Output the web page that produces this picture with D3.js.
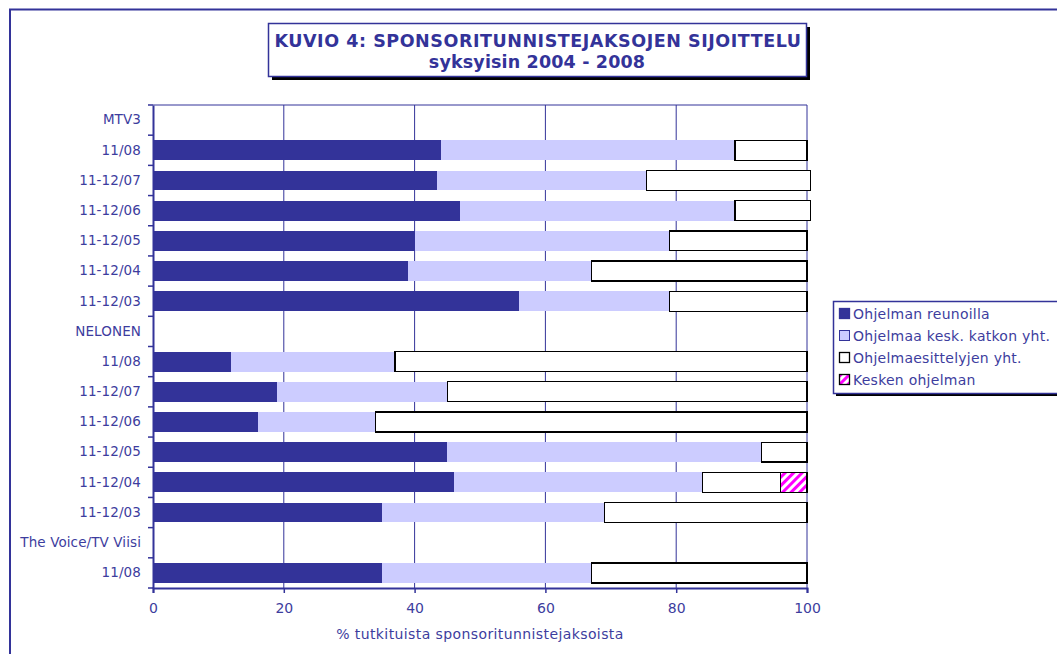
<!DOCTYPE html>
<html><head><meta charset="utf-8">
<script src="https://cdn.jsdelivr.net/npm/d3@7"></script>
<style>body{margin:0;background:#fff}svg{display:block;font-family:"DejaVu Sans",Verdana,sans-serif}</style>
</head><body><svg id="c" width="1057" height="654"></svg>
<script>
const categories = ["MTV3","11/08","11-12/07","11-12/06","11-12/05","11-12/04","11-12/03",
  "NELONEN","11/08","11-12/07","11-12/06","11-12/05","11-12/04","11-12/03",
  "The Voice/TV Viisi","11/08"];
const reunoilla   = [null,44,43.5,47,40,39,56, null,12,19,16,45,46,35, null,35];
const keskKatkon  = [null,45,32,42,39,28,23, null,25,26,18,48,38,34, null,32];
const esittelyjen = [null,11,25,11.5,21,33,21, null,63,55,66,7,12,31, null,33];
const keskenOhj   = [null,0,0,0,0,0,0, null,0,0,0,0,4,0, null,0];
const seriesNames = ["Ohjelman reunoilla","Ohjelmaa kesk. katkon yht.","Ohjelmaesittelyjen yht.","Kesken ohjelman"];
const xTicks = [0,20,40,60,80,100];
const titleLines = ["KUVIO 4: SPONSORITUNNISTEJAKSOJEN SIJOITTELU","syksyisin 2004 - 2008"];
const xTitle = "% tutkituista sponsoritunnistejaksoista";

const blue = "#333399", txt = "#3d3d9e";
const svg = d3.select("#c");
const defs = svg.append("defs");
const pat = defs.append("pattern").attr("id","hatch").attr("patternUnits","userSpaceOnUse")
  .attr("width",6).attr("height",6).attr("patternTransform","rotate(45)");
pat.append("rect").attr("width",6).attr("height",6).attr("fill","#fff");
pat.append("rect").attr("width",3).attr("height",6).attr("fill","#ff00ff");

// outer border
svg.append("path").attr("d","M10,654 V9.5 H1057").attr("fill","none").attr("stroke",blue).attr("stroke-width",2);

const L=153, R=807, T=105, B=588;
const x = d3.scaleLinear().domain([0,100]).range([L,R]);
const y = d3.scaleBand().domain(d3.range(categories.length)).range([T,B]).paddingInner(0.34).paddingOuter(0.17);

// gridlines
const g = svg.append("g");
g.selectAll("line.grid").data(xTicks.slice(1)).join("line")
  .attr("x1",d=>x(d)).attr("x2",d=>x(d)).attr("y1",T).attr("y2",B)
  .attr("stroke",blue).attr("stroke-width",1);
g.append("line").attr("x1",L).attr("x2",R).attr("y1",T).attr("y2",T).attr("stroke",blue);

// bars
const series = [reunoilla,keskKatkon,esittelyjen,keskenOhj];
const fills = [blue,"#ccccff","#ffffff","url(#hatch)"];
const strokes = ["none","none","#000","#000"];
categories.forEach((c,i)=>{
  let acc=0;
  series.forEach((s,k)=>{
    const v=s[i]; if(v==null||v===0){return;}
    svg.append("rect").attr("x",x(acc)).attr("y",y(i)).attr("width",x(acc+v)-x(acc)).attr("height",y.bandwidth())
      .attr("fill",fills[k]).attr("stroke",strokes[k]).attr("stroke-width",k>=2?1.3:0)
      .attr("shape-rendering","crispEdges");
    acc+=v;
  });
});

// y axis
const yAxis = d3.axisLeft(d3.scaleBand().domain(d3.range(categories.length)).range([T,B]))
  .tickSize(0).tickPadding(12).tickFormat(i=>categories[i]);
const ya = svg.append("g").attr("transform",`translate(${L},0)`).call(yAxis);
ya.select(".domain").attr("stroke",blue).attr("stroke-width",2);
ya.selectAll("text").attr("fill",txt).attr("font-size",13.5).attr("letter-spacing",0.1).attr("font-family","DejaVu Sans");
const bounds = d3.range(categories.length+1).map(i=>T+i*(B-T)/categories.length);
svg.append("g").selectAll("line").data(bounds).join("line")
  .attr("x1",L-5).attr("x2",L).attr("y1",d=>d).attr("y2",d=>d).attr("stroke",blue).attr("stroke-width",1.5);

// x axis
const xa = svg.append("g").attr("transform",`translate(0,${B})`)
  .call(d3.axisBottom(x).tickValues(xTicks).tickSize(5).tickPadding(10));
xa.select(".domain").attr("stroke",blue).attr("stroke-width",2);
xa.selectAll(".tick line").attr("stroke",blue).attr("stroke-width",1.5);
xa.selectAll("text").attr("fill",txt).attr("font-size",14).attr("font-family","DejaVu Sans");
svg.append("text").attr("x",(L+R)/2).attr("y",639).attr("text-anchor","middle")
  .attr("fill",txt).attr("font-size",14).attr("letter-spacing",0.4).text(xTitle);

// title box
svg.append("rect").attr("x",272).attr("y",27).attr("width",538).attr("height",53).attr("fill","#000");
svg.append("rect").attr("x",268.5).attr("y",23.5).attr("width",538).attr("height",53).attr("fill","#fff").attr("stroke",blue).attr("stroke-width",1.5);
svg.append("text").attr("x",538).attr("y",46.5).attr("text-anchor","middle").attr("fill",blue)
  .attr("font-weight","bold").attr("font-size",17.5).attr("letter-spacing",0.55).text(titleLines[0]);
svg.append("text").attr("x",537).attr("y",68).attr("text-anchor","middle").attr("fill",blue)
  .attr("font-weight","bold").attr("font-size",17.5).attr("letter-spacing",0.15).text(titleLines[1]);

// legend
svg.append("rect").attr("x",836).attr("y",304).attr("width",230).attr("height",92).attr("fill","#000");
svg.append("rect").attr("x",833.5).attr("y",301.5).attr("width",230).attr("height",92).attr("fill","#fff").attr("stroke",blue).attr("stroke-width",1.5);
const lg = svg.append("g");
seriesNames.forEach((n,k)=>{
  const yy = 314 + k*22;
  lg.append("rect").attr("x",839.5).attr("y",yy-5.5).attr("width",10).attr("height",10)
    .attr("fill",fills[k]).attr("stroke",k===0?blue:(k===1?"#333399":"#000")).attr("stroke-width",k===1?1:1.3);
  lg.append("text").attr("x",853).attr("y",yy+5).attr("fill",txt).attr("font-size",14).attr("letter-spacing",0.25).text(n);
});
</script></body></html>
